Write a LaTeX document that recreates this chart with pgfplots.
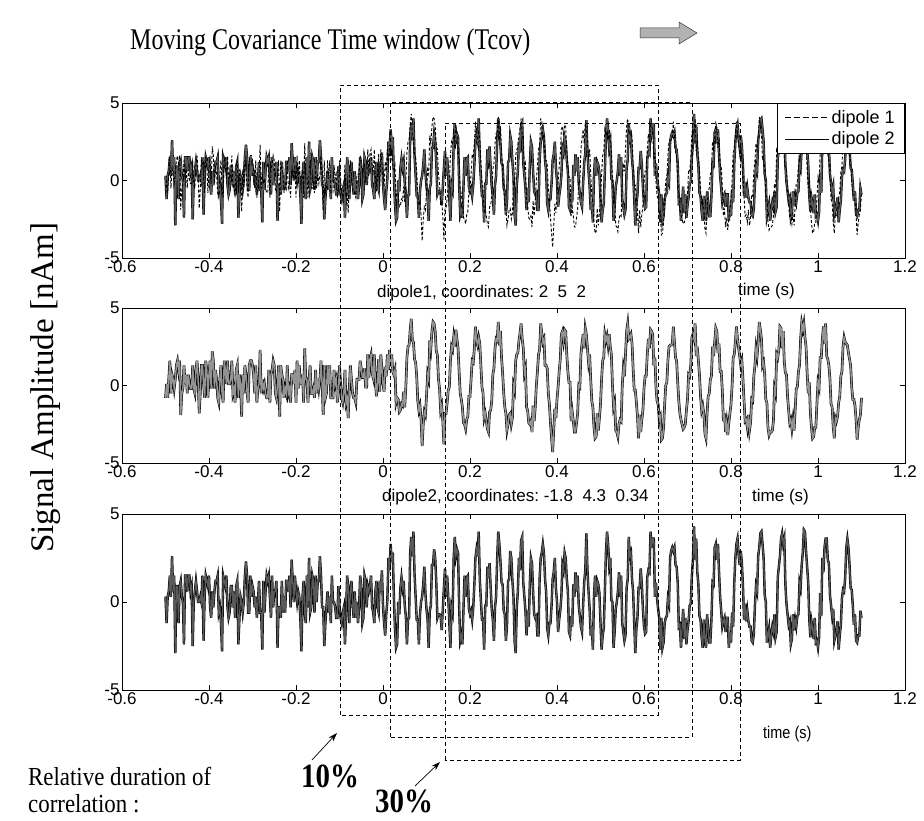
\documentclass[border=0pt]{standalone}
\usepackage{fontspec}
\setmainfont{Liberation Serif}
\setsansfont{Liberation Sans}
\usepackage{pgfplots}
\usepackage{pgfplotstable}
\pgfplotsset{compat=1.18}
\usetikzlibrary{arrows.meta}

% Source time courses, sampled every 2.5 ms from -0.5 s to 1.1 s (641 samples)
\pgfplotstableread[row sep=\\]{
y\\
-0.8\\0.1\\-0.8\\0.4\\1.6\\-0.5\\0.7\\0.4\\-0.2\\0.4\\1.3\\1.6\\1.0\\1.6\\-1.9\\-0.5\\-0.2\\1.3\\0.1\\0.7\\
-0.5\\0.7\\0.1\\-0.2\\-0.2\\1.3\\-0.2\\-0.5\\1.0\\1.6\\0.4\\-1.8\\-0.5\\1.3\\1.3\\0.1\\-0.8\\1.6\\1.0\\-0.8\\
0.7\\1.6\\-0.2\\2.2\\1.6\\-0.2\\1.0\\0.4\\-0.8\\-1.1\\0.4\\1.3\\-0.5\\-1.1\\1.6\\1.0\\0.1\\1.6\\0.1\\0.1\\
0.4\\1.6\\-0.5\\-0.2\\-1.1\\1.0\\1.3\\-0.8\\0.7\\0.1\\-2.0\\0.7\\-0.5\\1.3\\0.7\\-0.5\\-1.1\\1.3\\1.6\\1.6\\
1.3\\0.7\\-0.5\\1.3\\-1.1\\-0.2\\0.1\\2.3\\-0.5\\0.4\\-0.2\\0.1\\-0.5\\-0.8\\-0.8\\1.0\\-1.1\\0.7\\1.0\\1.6\\
1.3\\-0.5\\-0.8\\0.1\\1.3\\-2.0\\1.3\\0.7\\0.4\\-0.8\\-0.2\\-0.5\\1.3\\-0.5\\-0.2\\-1.1\\0.7\\0.7\\0.1\\1.0\\
-1.1\\1.6\\-0.2\\1.3\\0.1\\0.1\\0.7\\-1.1\\2.4\\0.4\\0.4\\-1.1\\0.4\\1.3\\-0.5\\-0.5\\-0.2\\-0.8\\1.0\\-0.5\\
0.4\\-0.2\\0.4\\1.6\\0.1\\-1.9\\1.3\\-0.8\\-0.5\\1.3\\0.1\\1.3\\-0.8\\-0.8\\-0.8\\1.0\\0.1\\0.4\\-1.1\\-0.5\\
1.3\\0.1\\-0.8\\-1.1\\-0.5\\1.0\\-1.1\\-0.8\\-2.1\\-0.2\\1.3\\0.4\\-0.5\\-0.8\\-0.8\\-1.1\\0.4\\0.4\\0.4\\1.6\\
1.1\\0.5\\0.5\\1.1\\-0.1\\-0.1\\2.0\\0.5\\1.7\\2.0\\0.8\\0.5\\2.0\\0.2\\-0.7\\0.2\\1.7\\-0.4\\2.0\\1.1\\
0.1\\-0.4\\1.2\\0.6\\2.0\\1.0\\2.3\\1.2\\2.0\\0.9\\0.7\\1.0\\-1.1\\-0.8\\-0.9\\-1.7\\-1.6\\-1.2\\-1.3\\-0.4\\
-1.4\\-0.1\\1.8\\2.5\\2.6\\3.6\\4.3\\2.9\\2.8\\1.7\\1.5\\0.6\\-1.0\\-1.6\\-1.3\\-2.2\\-3.9\\-2.5\\-1.7\\-1.9\\
-0.7\\0.7\\0.4\\2.9\\2.4\\3.5\\4.1\\4.0\\3.5\\2.2\\2.0\\0.4\\-0.2\\-1.6\\-1.3\\-2.3\\-3.8\\-1.8\\-1.8\\-1.1\\
-0.3\\-0.1\\1.6\\2.5\\2.3\\3.1\\2.5\\3.6\\3.0\\2.4\\0.9\\-0.5\\-0.9\\-1.4\\-2.4\\-2.5\\-2.8\\-2.2\\-2.0\\-0.7\\
-0.7\\0.4\\1.6\\1.5\\2.4\\3.8\\2.9\\2.6\\3.1\\2.7\\1.3\\-0.1\\-0.5\\-2.1\\-1.8\\-2.3\\-2.8\\-3.0\\-1.7\\-1.6\\
-1.0\\0.7\\1.1\\2.4\\3.0\\2.9\\4.1\\2.6\\3.5\\1.8\\0.8\\-0.5\\-1.4\\-1.8\\-2.9\\-2.5\\-1.9\\-1.8\\-2.5\\-2.1\\
0.0\\-0.3\\1.6\\2.0\\2.1\\2.9\\3.4\\4.0\\3.0\\2.4\\0.8\\1.1\\-1.4\\-1.6\\-2.4\\-2.5\\-2.3\\-3.0\\-1.3\\-2.3\\
-1.4\\0.0\\0.9\\2.0\\2.3\\4.0\\3.4\\2.8\\3.0\\1.3\\1.3\\1.1\\-0.5\\-1.2\\-2.4\\-3.4\\-4.3\\-2.9\\-1.5\\-2.1\\
-0.9\\-0.1\\0.9\\1.7\\3.3\\3.5\\2.9\\3.6\\3.5\\2.0\\0.9\\0.2\\0.2\\-2.3\\-1.7\\-2.3\\-3.0\\-3.0\\-2.4\\-1.8\\
0.0\\-0.1\\2.0\\2.7\\3.3\\2.4\\3.7\\3.3\\2.4\\1.5\\2.0\\0.4\\-1.0\\-1.4\\-2.7\\-3.4\\-3.3\\-1.8\\-2.9\\-2.1\\
-1.2\\0.4\\1.6\\1.8\\3.3\\2.9\\3.2\\2.6\\3.3\\2.5\\2.0\\0.0\\-1.4\\-1.1\\-2.9\\-3.0\\-3.3\\-2.5\\-2.2\\-2.3\\
0.0\\1.1\\0.6\\2.0\\3.5\\4.0\\3.0\\3.1\\3.3\\2.7\\1.1\\-0.3\\-0.3\\-1.1\\-2.0\\-3.4\\-1.9\\-3.0\\-2.2\\-1.6\\
-0.2\\0.6\\0.6\\2.0\\3.0\\2.4\\3.6\\3.5\\3.3\\1.3\\1.8\\-0.1\\-1.0\\-1.2\\-2.2\\-2.0\\-3.5\\-3.4\\-2.7\\-1.2\\
0.0\\0.2\\1.6\\2.5\\2.6\\2.6\\2.7\\3.8\\2.8\\1.8\\1.6\\0.2\\-1.0\\-1.8\\-2.2\\-2.5\\-2.8\\-2.7\\-2.5\\-1.6\\
-0.9\\0.7\\0.6\\1.3\\3.1\\3.3\\3.0\\4.0\\1.9\\2.5\\1.6\\0.7\\-0.7\\-1.6\\-1.3\\-1.8\\-3.1\\-3.4\\-1.8\\-0.7\\
-0.5\\0.4\\0.6\\2.5\\1.9\\2.8\\3.7\\3.5\\2.1\\2.7\\0.9\\0.9\\-0.3\\-2.3\\-1.8\\-3.0\\-2.4\\-3.2\\-2.4\\-1.8\\
-1.2\\0.0\\1.8\\2.0\\2.8\\3.8\\3.0\\2.4\\1.9\\1.3\\1.6\\0.4\\-1.0\\-2.3\\-2.2\\-2.7\\-1.9\\-2.9\\-2.4\\-0.9\\
-1.0\\0.6\\1.3\\2.4\\1.9\\2.8\\4.1\\3.6\\3.0\\1.3\\1.5\\0.7\\-0.9\\-1.1\\-2.7\\-3.2\\-3.0\\-3.0\\-2.9\\-2.3\\
-0.2\\-0.5\\2.0\\1.8\\2.3\\3.8\\3.7\\2.4\\3.5\\1.5\\0.8\\0.7\\-0.7\\-1.6\\-2.4\\-2.2\\-2.8\\-2.2\\-2.9\\-1.6\\
-0.2\\-0.1\\0.9\\1.3\\3.0\\4.0\\3.6\\4.0\\3.1\\2.5\\0.8\\-0.5\\0.2\\-1.8\\-2.7\\-3.4\\-3.3\\-2.7\\-2.7\\-1.2\\
0.2\\-0.1\\1.8\\1.8\\3.0\\3.8\\2.7\\4.0\\1.9\\1.7\\1.3\\0.4\\-1.2\\-1.4\\-2.7\\-3.4\\-2.1\\-2.3\\-2.0\\-1.1\\
-0.7\\0.6\\0.9\\2.5\\3.1\\2.8\\2.7\\2.6\\2.1\\1.7\\1.3\\-0.1\\-0.9\\-0.9\\-1.3\\-2.2\\-3.5\\-2.7\\-2.2\\-1.9\\
-0.8\\
}\dipoleone

\pgfplotstableread[row sep=\\]{
y\\
0.3\\-1.2\\0.3\\0.6\\1.5\\0.3\\2.6\\0.6\\1.5\\-2.9\\0.9\\0.9\\-1.2\\0.9\\1.2\\0.3\\0.0\\-2.4\\1.5\\1.5\\
0.6\\1.5\\1.5\\0.6\\0.9\\-2.5\\0.0\\0.6\\1.2\\0.6\\0.0\\0.0\\0.3\\0.0\\1.5\\-2.2\\0.3\\1.5\\1.2\\0.9\\
1.5\\-0.3\\-0.9\\0.6\\-0.3\\0.6\\1.2\\1.2\\1.5\\-0.6\\-0.3\\-1.2\\-2.8\\1.5\\1.2\\0.9\\1.5\\-0.3\\-0.9\\-0.6\\
0.9\\0.9\\-0.3\\0.6\\-0.9\\0.9\\1.2\\-2.4\\-0.9\\0.3\\0.0\\-0.6\\0.0\\1.5\\2.3\\1.5\\-0.6\\-0.6\\1.5\\0.3\\
0.9\\0.6\\-0.3\\0.3\\-0.9\\0.0\\1.2\\-0.6\\-0.6\\-2.7\\1.2\\-0.6\\0.6\\1.5\\1.2\\1.5\\0.3\\-0.9\\1.5\\-0.3\\
0.6\\0.6\\1.2\\-2.6\\-0.3\\-0.3\\-0.9\\1.2\\-0.6\\0.3\\-0.6\\1.2\\1.2\\0.6\\1.5\\-0.3\\2.4\\1.2\\0.0\\1.5\\
0.6\\0.0\\0.6\\0.3\\-0.9\\-2.8\\0.3\\1.2\\-0.6\\-1.2\\1.5\\-0.3\\2.5\\-0.6\\-0.3\\1.5\\1.2\\-0.6\\1.5\\0.0\\
1.2\\1.2\\2.6\\1.5\\-0.3\\-0.3\\-2.5\\-1.2\\-0.3\\0.6\\-0.6\\0.3\\-1.2\\1.5\\0.0\\0.0\\-0.3\\-0.9\\-0.9\\0.9\\
-0.3\\-0.9\\-1.2\\-0.6\\-0.3\\-2.4\\-0.9\\1.5\\0.9\\-1.2\\0.6\\1.2\\0.0\\-0.9\\0.6\\-0.9\\0.0\\-1.2\\-0.3\\1.5\\
0.9\\-1.2\\-0.9\\1.5\\1.2\\-0.3\\0.9\\0.6\\0.9\\1.5\\-0.3\\-0.6\\-1.2\\0.6\\1.2\\-0.3\\-0.6\\1.2\\0.6\\1.8\\
-0.2\\-1.2\\-1.9\\-0.7\\0.1\\2.5\\1.8\\3.3\\2.3\\2.8\\0.3\\-1.5\\-2.6\\-2.4\\0.0\\-0.7\\0.8\\1.4\\0.8\\1.2\\
-0.2\\-0.8\\-2.4\\-1.0\\-0.9\\2.8\\3.7\\2.6\\4.0\\1.6\\0.3\\-1.0\\-1.0\\-2.4\\-0.7\\0.0\\0.3\\1.0\\2.0\\0.5\\
-0.4\\-1.0\\-2.6\\-0.5\\-0.2\\2.1\\2.1\\3.0\\2.5\\1.1\\-0.9\\-0.7\\-0.7\\-0.8\\-1.6\\-0.4\\0.8\\1.9\\0.3\\1.5\\
0.3\\-1.2\\-2.6\\-0.3\\-0.6\\2.5\\3.7\\2.6\\3.0\\2.8\\-0.2\\-2.2\\-1.9\\-2.4\\-0.4\\1.5\\0.3\\1.4\\1.5\\-0.4\\
-0.7\\-0.5\\-1.0\\-0.3\\1.0\\2.5\\3.0\\2.6\\4.0\\1.3\\0.1\\-1.0\\-1.0\\-2.7\\-0.2\\-0.2\\2.0\\1.4\\2.2\\0.8\\
-0.4\\-1.0\\-2.2\\-0.3\\0.3\\2.5\\4.0\\3.3\\2.3\\1.1\\1.0\\-0.5\\-0.7\\-2.2\\-1.4\\1.2\\1.3\\2.9\\2.5\\1.2\\
0.3\\-2.2\\-2.9\\-0.3\\0.6\\2.5\\1.8\\3.5\\3.7\\1.1\\0.3\\-0.5\\-1.9\\-0.5\\-1.4\\1.0\\2.5\\2.2\\0.6\\-0.7\\
-0.9\\-0.8\\-1.9\\-1.9\\1.3\\2.5\\2.8\\3.3\\2.8\\1.3\\0.6\\-1.5\\-1.9\\-1.2\\-1.2\\-0.2\\1.3\\1.7\\2.5\\0.8\\
0.0\\-1.7\\-1.0\\-0.5\\0.3\\2.1\\1.8\\2.8\\2.5\\1.3\\0.6\\-1.7\\-1.9\\-0.8\\-1.4\\1.0\\0.3\\1.7\\0.6\\1.5\\
-0.2\\-0.8\\-1.4\\-1.7\\-0.2\\1.1\\1.8\\3.9\\1.8\\0.6\\-0.4\\-1.9\\-1.4\\-2.7\\0.3\\1.5\\0.3\\1.2\\1.0\\0.5\\
-1.2\\-2.7\\-1.9\\-1.5\\0.6\\2.8\\4.0\\3.3\\2.1\\2.5\\0.1\\0.0\\-2.6\\-1.7\\-0.4\\0.0\\0.6\\1.7\\0.3\\1.5\\
-1.2\\-1.7\\-2.2\\-1.9\\0.8\\1.3\\3.7\\2.6\\2.8\\1.3\\0.6\\-1.2\\-2.9\\-1.5\\-0.9\\0.8\\0.8\\1.9\\1.0\\-0.4\\
-1.4\\-1.8\\-1.7\\1.4\\1.8\\1.7\\4.0\\3.1\\3.6\\3.6\\0.3\\1.1\\0.2\\-0.4\\-0.9\\-2.7\\-0.9\\-2.6\\-2.3\\-1.2\\
-0.9\\-0.8\\0.2\\-0.1\\2.5\\2.9\\3.1\\2.9\\3.1\\2.1\\2.0\\1.1\\-1.4\\-1.3\\-2.6\\-1.5\\-0.4\\-2.1\\-0.9\\-2.4\\
-1.6\\-1.1\\-0.2\\-0.1\\1.5\\2.4\\4.3\\2.4\\3.6\\1.7\\1.0\\-0.8\\-1.0\\-2.0\\-2.6\\-1.0\\-2.1\\-2.6\\-0.7\\-1.5\\
-2.3\\-2.3\\-1.0\\1.1\\1.0\\3.1\\3.3\\2.4\\3.3\\1.7\\0.3\\-0.5\\-1.4\\-1.1\\-0.9\\-1.7\\-0.9\\-0.9\\-2.6\\-1.7\\
-2.3\\-0.6\\-1.4\\1.1\\2.5\\3.3\\3.6\\2.7\\2.1\\2.9\\2.2\\0.9\\-1.0\\-0.1\\-1.1\\-0.5\\-1.1\\-1.4\\-1.4\\-2.2\\
-2.3\\-1.8\\-0.2\\0.9\\0.6\\2.6\\3.1\\3.9\\4.0\\3.3\\2.5\\0.4\\0.0\\-2.3\\-1.9\\-1.5\\-2.6\\-1.9\\-1.4\\-1.7\\
-0.7\\-2.0\\-1.7\\1.4\\2.0\\2.6\\3.6\\3.9\\3.3\\3.6\\1.0\\-0.1\\-0.7\\-1.3\\-1.1\\-2.4\\-2.1\\-0.7\\-1.6\\-1.0\\
-1.4\\-0.8\\-0.7\\1.1\\0.8\\2.1\\2.8\\4.1\\4.0\\2.9\\2.0\\1.1\\-1.0\\-2.0\\-1.1\\-1.5\\-2.1\\-0.9\\-2.3\\-2.2\\
-2.6\\-2.0\\0.5\\-0.8\\2.5\\1.7\\3.1\\3.6\\3.6\\2.4\\2.2\\0.4\\-0.2\\-0.8\\-0.4\\-2.2\\-1.9\\-1.6\\-1.1\\-2.7\\
-1.9\\-1.3\\0.2\\0.7\\0.6\\1.4\\3.1\\3.6\\3.1\\2.1\\0.8\\0.7\\-0.2\\-1.3\\-0.7\\-2.2\\-2.3\\-1.9\\-1.9\\-0.5\\
-0.9\\
}\dipoletwo

\pgfplotsset{
  panel/.style={
    scale only axis, width=783pt,
    xmin=-0.6, xmax=1.2, ymin=-5, ymax=5,
    xtick={-0.6,-0.4,-0.2,0,0.2,0.4,0.6,0.8,1,1.2},
    xticklabels={-0.6,-0.4,-0.2,0,0.2,0.4,0.6,0.8,1,1.2},
    ytick={-5,0,5}, yticklabels={-5,0,5},
    tick align=inside, xtick pos=both, ytick pos=both,
    major tick length=5pt,
    tick style={black, line width=0.6pt},
    axis line style={black, line width=0.8pt},
    ticklabel style={font=\fontsize{17}{17}\selectfont\sffamily},
    xticklabel style={yshift=1pt},
    yticklabel style={xshift=1pt},
  },
  trace/.style={table/x expr=\coordindex*0.0025-0.5, table/y=y},
}

\begin{document}
\begin{tikzpicture}[x=1pt, y=1pt]
\useasboundingbox (0,0) rectangle (924,820);

% top panel: both dipoles overlaid
\begin{axis}[panel, at={(122pt,562pt)}, anchor=south west, height=155pt,
  legend style={at={(1,1)}, anchor=north east, draw=black, line width=0.6pt,
    fill=white, font=\fontsize{18}{18}\selectfont\sffamily,
    inner xsep=8pt, inner ysep=5pt, row sep=3pt},
  legend cell align=left,
  legend image code/.code={\draw[#1] (0pt,0pt) -- (44pt,0pt);},
]
\addplot[trace, black, line width=2.4pt, forget plot] table {\dipoletwo};
\addplot[trace, gray!70!black, line width=1.3pt, forget plot] table {\dipoletwo};
\addplot[trace, black, line width=0.9pt, dash pattern=on 3pt off 2pt, forget plot] table {\dipoleone};
\addlegendimage{black, line width=0.8pt, dash pattern=on 6pt off 3pt}
\addlegendentry{dipole 1}
\addlegendimage{black, line width=0.8pt}
\addlegendentry{dipole 2}
\end{axis}

% middle panel: dipole 1
\begin{axis}[panel, at={(122pt,357pt)}, anchor=south west, height=155pt]
\addplot[trace, black, line width=2.6pt] table {\dipoleone};
\addplot[trace, gray!85, line width=1.5pt] table {\dipoleone};
\end{axis}

% bottom panel: dipole 2
\begin{axis}[panel, at={(122pt,130pt)}, anchor=south west, height=176pt]
\addplot[trace, black, line width=2.4pt] table {\dipoletwo};
\addplot[trace, gray!70!black, line width=1.3pt] table {\dipoletwo};
\end{axis}

% panel titles and time labels
\begin{scope}[every node/.style={inner sep=0pt, font=\fontsize{17}{17}\selectfont\sffamily}]
\node[anchor=base west] at (377,522) {dipole1, coordinates:\ 2\ \ 5\ \ 2};
\node[anchor=base west] at (738,524) {time (s)};
\node[anchor=base west] at (382,318) {dipole2, coordinates:\ -1.8\ \ 4.3\ \ 0.34};
\node[anchor=base west] at (752,318) {time (s)};
\node[anchor=base west] at (763,82) {\scalebox{0.85}[1]{time (s)}};
\end{scope}

% headline and vertical label
\node[anchor=base west, inner sep=0pt] at (130,770)
  {\fontsize{30}{30}\selectfont\scalebox{0.8}[1]{Moving Covariance Time window (Tcov)}};
\filldraw[fill=gray!60, draw=gray!40!black, line width=0.5pt]
  (640,782) -- (679,782) -- (679,776) -- (697,787) -- (679,798) -- (679,792) -- (640,792) -- cycle;
\node[rotate=90, inner sep=0pt] at (46,432)
  {\fontsize{33}{33}\selectfont Signal Amplitude [nAm]};

% moving covariance windows
\begin{scope}[black, line width=0.9pt, dash pattern=on 4pt off 3pt]
\draw (340,105) rectangle (658,735);
\draw (390,83) rectangle (692,718);
\draw (445,60) rectangle (740,697);
\end{scope}

% relative duration annotation
\draw[line width=0.7pt, -{Stealth[length=9pt, width=6pt]}] (312,60) -- (337,87);
\draw[line width=0.7pt, -{Stealth[length=9pt, width=6pt]}] (415,34) -- (440,58);
\node[inner sep=0pt] at (330,44) {\fontsize{34}{34}\selectfont\bfseries\scalebox{0.85}[1]{10\%}};
\node[inner sep=0pt] at (404,19) {\fontsize{34}{34}\selectfont\bfseries\scalebox{0.85}[1]{30\%}};
\node[anchor=base west, inner sep=0pt] at (28,35)
  {\fontsize{26}{26}\selectfont\scalebox{0.88}[1]{Relative duration of}};
\node[anchor=base west, inner sep=0pt] at (28,8)
  {\fontsize{26}{26}\selectfont\scalebox{0.88}[1]{correlation :}};
\end{tikzpicture}
\end{document}
